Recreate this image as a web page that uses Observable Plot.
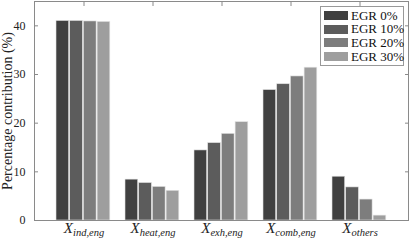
<!DOCTYPE html>
<html>
<head>
<meta charset="utf-8">
<script src="https://cdn.jsdelivr.net/npm/d3@7"></script>
<script src="https://cdn.jsdelivr.net/npm/@observablehq/plot@0.6"></script>
<style>
  html, body { margin: 0; padding: 0; background: #fff; }
  #wrap { position: relative; width: 411px; height: 240px; font-family: "Liberation Serif", "DejaVu Serif", serif; }
  #wrap svg { font-family: "Liberation Serif", "DejaVu Serif", serif; font-size: 12px; color: #222; background: #fff; }
  #legend { position: absolute; left: 320px; top: 6px; width: 84px; height: 60px; border: 1px solid #999; background: #fff; box-sizing: border-box; padding: 2px 0 0 3px; }
  .row { display: flex; align-items: center; height: 13.6px; font-size: 13px; color: #111; white-space: nowrap; }
  .sw { width: 24px; height: 9px; margin-right: 3px; flex: none; }
</style>
</head>
<body>
<div id="wrap"></div>
<script>
const categories = ["ind,eng", "heat,eng", "exh,eng", "comb,eng", "others"];
const series = ["EGR 0%", "EGR 10%", "EGR 20%", "EGR 30%"];
const egr0  = [41.0, 8.4, 14.4, 26.8, 9.0];
const egr10 = [41.0, 7.7, 15.9, 28.0, 6.8];
const egr20 = [40.9, 6.9, 17.8, 29.6, 4.3];
const egr30 = [40.8, 6.1, 20.2, 31.4, 1.0];
const seriesValues = [egr0, egr10, egr20, egr30];
const colors = ["#404040", "#5c5c5c", "#7d7d7d", "#9e9e9e"];
const yTicks = [0, 10, 20, 30, 40];
const yLabel = "Percentage contribution (%)";

const W = 411, H = 240, mL = 34, mR = 3, mT = 1, mB = 20;
const pI = 0.21, pO = 0.3;
const step = (W - mL - mR) / (categories.length - pI + 2 * pO);
const bw = step * (1 - pI);
const sub = bw / series.length;
const gap = 1.2;

const barMarks = series.map((s, i) =>
  Plot.barY(categories.map((c, j) => ({cat: c, value: seriesValues[i][j]})), {
    x: "cat", y: "value", fill: colors[i],
    insetLeft: i * sub, insetRight: bw - (i + 1) * sub + gap,
    stroke: "#e2e2e2", strokeWidth: 0.6
  })
);

const chart = Plot.plot({
  width: W, height: H,
  marginLeft: mL, marginRight: mR, marginTop: mT, marginBottom: mB,
  x: {domain: categories, paddingInner: pI, paddingOuter: pO, align: 0.5},
  y: {domain: [0, 45]},
  marks: [
    ...barMarks,
    Plot.frame({stroke: "#8a8a8a", strokeWidth: 1}),
    Plot.axisY(yTicks, {anchor: "left", tickSize: 0, tickPadding: 9, label: yLabel, labelAnchor: "center", labelArrow: "none", labelOffset: 32, fontSize: 12}),
    Plot.axisY(yTicks, {anchor: "left", tickSize: -4, tickFormat: () => "", label: null, stroke: "#8a8a8a"}),
    Plot.axisY(yTicks, {anchor: "right", tickSize: -4, tickFormat: () => "", label: null, stroke: "#8a8a8a"}),
    Plot.axisX({anchor: "top", tickSize: -4, tickFormat: () => "", label: null, stroke: "#8a8a8a"}),
    Plot.axisX({anchor: "bottom", tickSize: 0, tickPadding: 3, label: null, fontSize: 13, tickFormat: d => "X" + d})
  ]
});

document.getElementById("wrap").appendChild(chart);

// y label slightly larger than tick labels, as in the reference
d3.select(chart).selectAll('g[aria-label="y-axis label"] text').attr("font-size", 14);

// render subscripts in the x tick labels
d3.select(chart).selectAll('g[aria-label="x-axis tick label"] text').each(function() {
  const t = d3.select(this);
  const s = t.text();
  if (!s) return;
  const subTxt = s.slice(1);
  t.text(null);
  t.append("tspan").attr("font-style", "italic").attr("font-size", 15).text("X");
  t.append("tspan").attr("font-style", "italic").attr("font-size", 10.5).attr("dy", "0.3em").text(subTxt);
});

// legend
const legend = d3.select("#wrap").append("div").attr("id", "legend");
series.forEach((s, i) => {
  const r = legend.append("div").attr("class", "row");
  r.append("div").attr("class", "sw").style("background", colors[i]);
  r.append("span").text(s);
});
</script>
</body>
</html>
